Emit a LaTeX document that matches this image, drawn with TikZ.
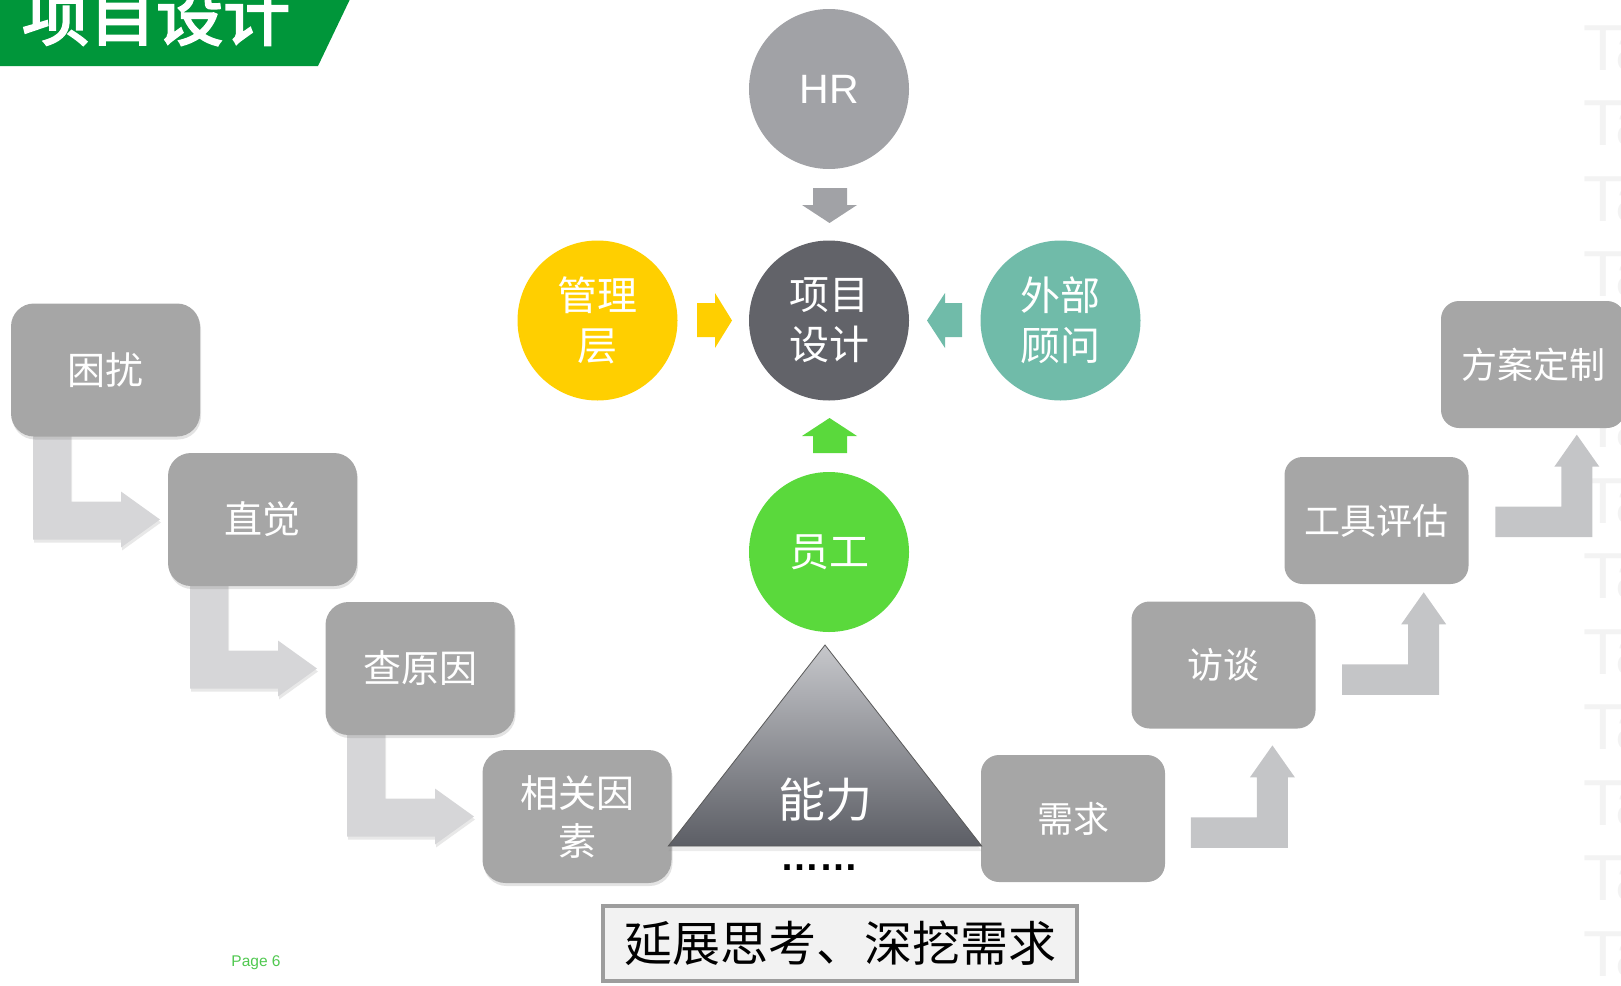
\documentclass[tikz,border=0pt]{standalone}
\usepackage{fontspec}
\setmainfont{Liberation Sans}
\newfontfamily\cjk{Noto Sans CJK SC}
\newfontfamily\cjkb[FakeBold=3]{Noto Sans CJK SC}
\usetikzlibrary{shadows,calc}
\definecolor{titlegreen}{RGB}{0,150,58}
\definecolor{boxgray}{RGB}{166,166,166}
\definecolor{larrow}{RGB}{214,214,216}
\definecolor{rarrow}{RGB}{196,197,199}
\definecolor{hrgray}{RGB}{161,162,166}
\definecolor{coregray}{RGB}{98,99,105}
\definecolor{mgmtyellow}{RGB}{255,207,0}
\definecolor{consteal}{RGB}{112,187,169}
\definecolor{staffgreen}{RGB}{90,217,60}
\definecolor{tritop}{RGB}{198,199,203}
\definecolor{tribot}{RGB}{92,94,101}
\definecolor{pagegreen}{RGB}{80,200,80}
\definecolor{wmgray}{RGB}{243,243,243}
\definecolor{noteborder}{RGB}{157,157,157}
\definecolor{notefill}{RGB}{242,242,242}
\begin{document}
\begin{tikzpicture}[x=1pt,y=-1pt,
  lbox/.style={fill=boxgray, rounded corners=23pt, minimum width=189pt, minimum height=133pt,
    inner sep=0pt, text=white, align=center, font=\cjk\fontsize{38}{48}\selectfont,
    drop shadow={opacity=0.22, shadow xshift=1pt, shadow yshift=-3pt}},
  rbox/.style={fill=boxgray, rounded corners=18pt, minimum width=184pt, minimum height=127pt,
    inner sep=0pt, text=white, align=center, font=\cjk\fontsize{36}{46}\selectfont},
  circ/.style={circle, minimum size=160pt, inner sep=0pt, text=white, align=center,
    font=\cjk\fontsize{40}{50}\selectfont},
  larrowpic/.pic={\fill[larrow, drop shadow={opacity=0.18, shadow xshift=1pt, shadow yshift=-3pt}]
    (-127,-90) -- (-89,-90) -- (-89,-18) -- (-39,-18) -- (-39,-28) -- (0,0) -- (-39,28) -- (-39,20) -- (-127,20) -- cycle;},
  rarrowpic/.pic={\fill[rarrow]
    (-81.5,72) -- (-15.5,72) -- (-15.5,32) -- (-22.5,32) -- (0,0) -- (22.5,32) -- (15.5,32) -- (15.5,102.5) -- (-81.5,102.5) -- cycle;}
]
\useasboundingbox (0,0) rectangle (1621,985);

% watermark
\foreach \k in {0,...,12}
  \node[anchor=base west, inner sep=0pt, text=wmgray, font=\fontsize{65}{65}\selectfont] (wm\k) at (1583,{70+75.5*\k}) {Ta};

% title banner
\fill[titlegreen] (0,-5) -- (352,-5) -- (318,66) -- (0,66) -- cycle;
\node[anchor=base west, inner sep=0pt, text=white, font=\cjkb\fontsize{67}{67}\selectfont] (title) at (22,40) {项目设计};

% left boxes
\coordinate (zjw) at (168,519.5);
\coordinate (cyw) at (325,668.5);
\coordinate (xgw) at (482,816.5);
\pic at ($(zjw)+(-8,0)$) {larrowpic};
\pic at ($(cyw)+(-8,0)$) {larrowpic};
\pic at ($(xgw)+(-8,0)$) {larrowpic};
\node[lbox] (kr) at (105.5,370) {困扰};
\node[lbox] (zj) at (262.5,519.5) {直觉};
\node[lbox] (cy) at (420,668.5) {查原因};
\node[lbox] (xg) at (577,816.5) {相关因\\素};

% right boxes
\pic at (1272.4,745.4) {rarrowpic};
\pic at (1423.7,592.3) {rarrowpic};
\pic at (1576.8,434.7) {rarrowpic};
\node[rbox] (xq) at (1073,818.5) {需求};
\node[rbox] (ft) at (1223.5,665) {访谈};
\node[rbox] (gj) at (1376.5,520.5) {工具评估};
\node[rbox] (fa) at (1533,364.5) {方案定制};

% circles
\node[circ, fill=hrgray, font=\fontsize{41}{41}\selectfont] (hr) at (829,89) {HR};
\node[circ, fill=coregray] (core) at (829,320.5) {项目\\设计};
\node[circ, fill=mgmtyellow] (mg) at (597.5,320.5) {管理\\层};
\node[circ, fill=consteal] (cs) at (1060.5,320.5) {外部\\顾问};
\node[circ, fill=staffgreen] (st) at (829,552) {员工};

% block arrows into core
\fill[hrgray] (813,188) -- (847,188) -- (847,205) -- (857,205) -- (829.5,223) -- (802,205) -- (813,205) -- cycle;
\fill[staffgreen] (813,453) -- (847,453) -- (847,436) -- (857,436) -- (829.5,418) -- (802,436) -- (813,436) -- cycle;
\fill[mgmtyellow] (697,303) -- (715,303) -- (715,293) -- (732,320.5) -- (715,348) -- (715,337) -- (697,337) -- cycle;
\fill[consteal] (962,303) -- (945,303) -- (945,293) -- (927,320.5) -- (945,348) -- (945,337) -- (962,337) -- cycle;

% triangle
\shadedraw[top color=tritop, bottom color=tribot, draw=black!65, line width=0.8pt,
  drop shadow={opacity=0.15, shadow xshift=0pt, shadow yshift=-5pt}]
  (825,645) -- (981.7,846) -- (668.3,846) -- cycle;
\node[text=white, font=\cjk\fontsize{47}{47}\selectfont] (ab) at (825,800) {能力};
\node[anchor=base, inner sep=0pt, font=\bfseries\fontsize{39}{39}\selectfont] (dots) at (819.5,870) {……};

% bottom note
\node[draw=noteborder, line width=4pt, fill=notefill, minimum width=474pt, minimum height=75pt,
  inner sep=0pt, font=\cjk\fontsize{48}{48}\selectfont] (note) at (840,943.5) {延展思考、深挖需求};

\node[text=pagegreen, font=\fontsize{15.5}{15.5}\selectfont] (page) at (256,963) {Page 6};
\end{tikzpicture}
\end{document}
